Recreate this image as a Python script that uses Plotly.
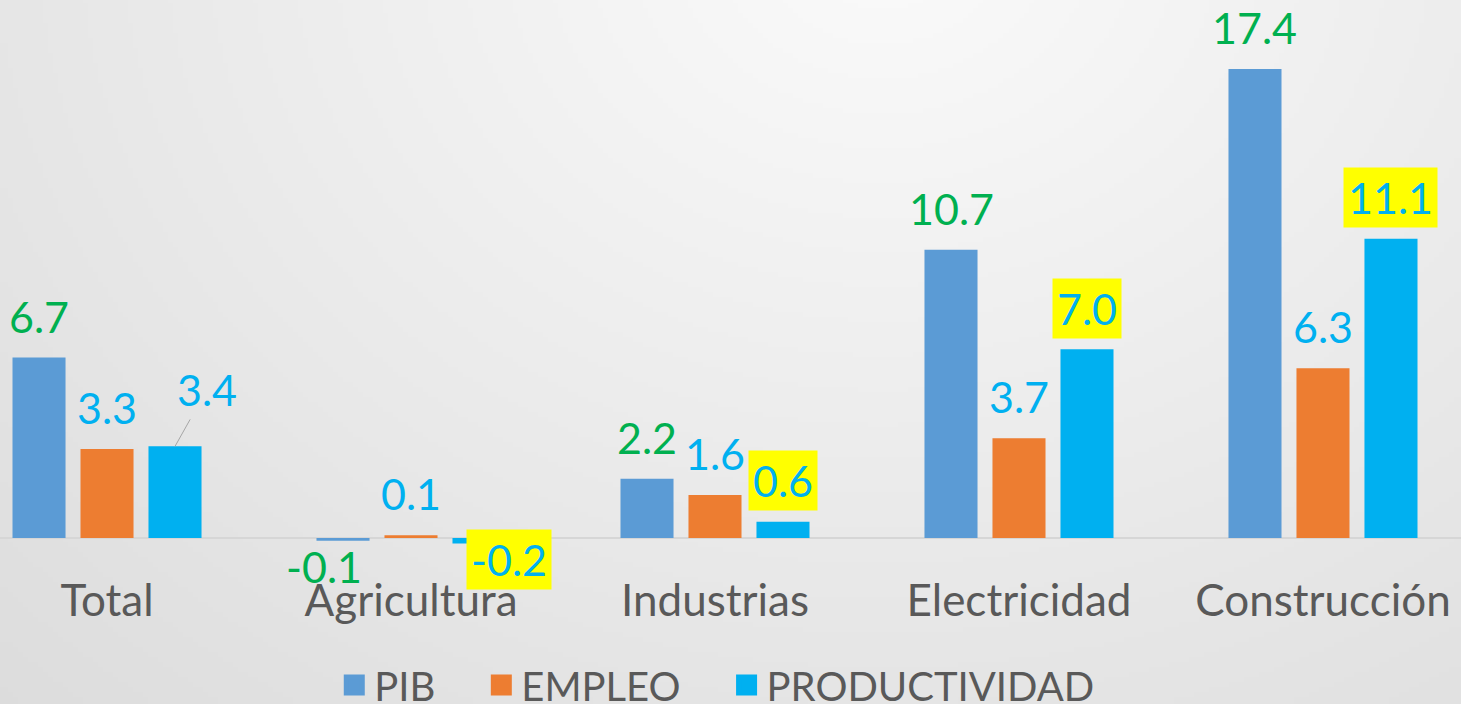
import base64
import struct
import zlib

import plotly.graph_objects as go

# ---------------- data ----------------
categories = ["Total", "Agricultura", "Industrias", "Electricidad", "Construcción"]
pib = [6.7, -0.1, 2.2, 10.7, 17.4]
empleo = [3.3, 0.1, 1.6, 3.7, 6.3]
productividad = [3.4, -0.2, 0.6, 7.0, 11.1]
series_names = ["PIB", "EMPLEO", "PRODUCTIVIDAD"]

# ---------------- style ----------------
W, H = 1461, 704
MARGIN_B = 144
PLOT_H = H - MARGIN_B
FONT = "Lato, 'Open Sans', 'DejaVu Sans', sans-serif"
bar_colors = ["#5B9BD5", "#ED7D31", "#00B0F0"]
label_colors = ["#00B050", "#00B0F0", "#00B0F0"]
TEXT_GRAY = "#595959"
BARGAP = 0.329
BARGROUPGAP = 0.22
LABEL_SIZE = 43
TICK_SIZE = 44
LEGEND_SIZE = 40
legend_pad = ["\u00a0" * 4, "\u00a0" * 4, ""]

# labels drawn on a yellow background: (series index, category index)
highlighted = {(2, 1), (2, 2), (2, 3), (2, 4)}
# per-label pixel adjustments: (xshift, yshift)
label_shift = {(0, 1): (-19, 4.6), (2, 1): (30.5, 14.4)}
# labels with a leader line: (ax, ay)
leader = {(2, 0): (32, -57)}


# ---------------- background gradient (generated PNG) ----------------
def chunk(tag, data):
    return (struct.pack(">I", len(data)) + tag + data
            + struct.pack(">I", zlib.crc32(tag + data) & 0xFFFFFFFF))


def gradient_png(w, h):
    rows = []
    for j in range(h):
        py = j * H / h
        row = bytearray([0])
        for i in range(w):
            px = i * W / w
            d = (((px - 880) / 1100) ** 2 + ((py + 60) / 900) ** 2) ** 0.5
            v = int(max(205, min(251, 251 - 26 * d)))
            row.append(v)
        rows.append(bytes(row))
    raw = b"".join(rows)
    png = (b"\x89PNG\r\n\x1a\n"
           + chunk(b"IHDR", struct.pack(">IIBBBBB", w, h, 8, 0, 0, 0, 0))
           + chunk(b"IDAT", zlib.compress(raw, 9))
           + chunk(b"IEND", b""))
    return "data:image/png;base64," + base64.b64encode(png).decode()


bg_src = gradient_png(292, 141)

# ---------------- figure ----------------
fig = go.Figure()
all_series = [pib, empleo, productividad]
for name, vals, col in zip(series_names, all_series, bar_colors):
    fig.add_trace(go.Bar(
        x=categories, y=vals, name=name, marker=dict(color=col, line=dict(width=0)),
        showlegend=False,
    ))

# legend entries
for name, col, pad in zip(series_names, bar_colors, legend_pad):
    fig.add_trace(go.Scatter(
        x=[None], y=[None], mode="markers", name=name + pad,
        marker=dict(symbol="square", size=16, color=col, line=dict(color=col, width=8)),
        showlegend=True, hoverinfo="skip",
    ))

slot = (1 - BARGAP) / 3
annotations = []
for s, vals in enumerate(all_series):
    offset = (s - 1) * slot
    for c, v in enumerate(vals):
        key = (s, c)
        ann = dict(
            x=c + offset, y=v, xref="x", yref="y",
            text=f"{v:.1f}",
            font=dict(family=FONT, size=LABEL_SIZE, color=label_colors[s]),
            borderpad=4,
        )
        if key in highlighted:
            ann["bgcolor"] = "#FFFF00"
        if key in leader:
            ax, ay = leader[key]
            ann.update(showarrow=True, ax=ax, ay=ay, arrowhead=0, arrowwidth=1,
                       arrowcolor="#a6a6a6", standoff=0)
        else:
            ann["showarrow"] = False
            ann["xanchor"] = "center"
            if v >= 0:
                ann["yanchor"] = "bottom"
                ann["yshift"] = 10.8
            else:
                ann["yanchor"] = "top"
                ann["yshift"] = 0
            if key in label_shift:
                dx, dy = label_shift[key]
                ann["xshift"] = dx
                ann["yshift"] = dy
        annotations.append(ann)

px_per_unit = 26.95
zero_px = 538
y_top = zero_px / px_per_unit
y_bottom = -(PLOT_H - zero_px) / px_per_unit

fig.update_layout(
    width=W, height=H, autosize=False,
    margin=dict(l=0, r=0, t=0, b=MARGIN_B, pad=0, autoexpand=False),
    barmode="group", bargap=BARGAP, bargroupgap=BARGROUPGAP,
    paper_bgcolor="#e4e4e4", plot_bgcolor="rgba(0,0,0,0)",
    font=dict(family=FONT, color=TEXT_GRAY),
    images=[dict(source=bg_src, xref="paper", yref="paper", x=0, y=1,
                 sizex=1, sizey=H / PLOT_H, xanchor="left", yanchor="top",
                 sizing="stretch", layer="below")],
    xaxis=dict(type="category", range=[-0.352, 4.454], showgrid=False,
               showline=False, ticks="", zeroline=False, ticklabelstandoff=11,
               tickfont=dict(family=FONT, size=TICK_SIZE, color=TEXT_GRAY)),
    yaxis=dict(range=[y_bottom, y_top], showgrid=False, showticklabels=False,
               zeroline=True, zerolinecolor="#d6d6d6", zerolinewidth=1.5,
               showline=False, ticks=""),
    legend=dict(orientation="h", x=0.4906, xanchor="center",
                y=-(685 - PLOT_H) / PLOT_H, yanchor="middle",
                font=dict(family=FONT, size=LEGEND_SIZE, color=TEXT_GRAY),
                bgcolor="rgba(0,0,0,0)"),
    annotations=annotations,
    hovermode=False,
)

fig.write_html(
    "out.html",
    config={"displayModeBar": False},
    post_script="document.body.style.margin='0';document.body.style.overflow='hidden';",
)
